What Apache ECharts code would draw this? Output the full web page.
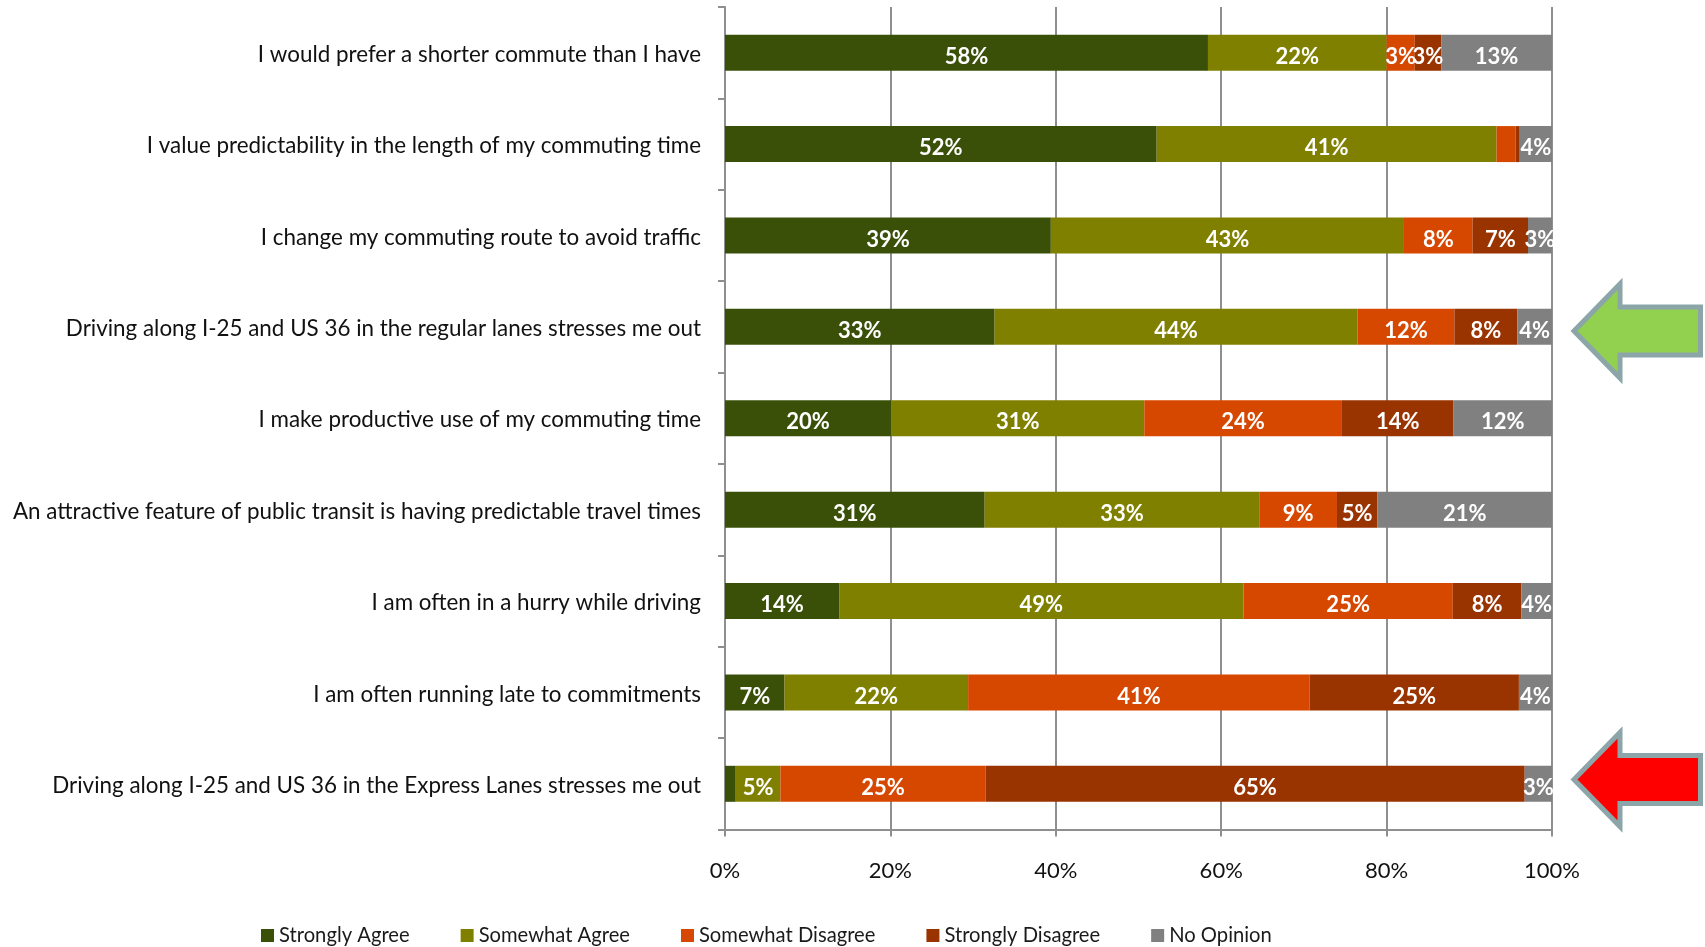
<!DOCTYPE html>
<html>
<head>
<meta charset="utf-8">
<style>html,body{margin:0;padding:0;background:#fff}#chart{width:1705px;height:947px}</style>
<script src="https://cdn.jsdelivr.net/npm/echarts@6/dist/echarts.min.js"></script>
</head>
<body>
<div id="chart"></div>
<script>
// Survey statements, top to bottom
const statements = [
  'I would prefer a shorter commute than I have',
  'I value predictability in the length of my commuting time',
  'I change my commuting route to avoid traffic',
  'Driving along I-25 and US 36 in the regular lanes stresses me out',
  'I make productive use of my commuting time',
  'An attractive feature of public transit is having predictable travel times',
  'I am often in a hurry while driving',
  'I am often running late to commitments',
  'Driving along I-25 and US 36 in the Express Lanes stresses me out'
];

// Share of responses per statement, in percent
const stronglyAgree    = [58.4, 52.2, 39.4, 32.6, 20.1, 31.4, 13.8,  7.2,  1.3];
const somewhatAgree    = [21.6, 41.1, 42.7, 43.9, 30.6, 33.2, 48.9, 22.2,  5.4];
const somewhatDisagree = [ 3.4,  2.3,  8.3, 11.7, 23.9,  9.4, 25.3, 41.3, 24.8];
const stronglyDisagree = [ 3.2,  0.5,  6.7,  7.6, 13.5,  4.9,  8.3, 25.3, 65.2];
const noOpinion        = [13.4,  3.9,  2.9,  4.2, 11.9, 21.1,  3.7,  4.0,  3.3];

const responses = [
  { name: 'Strongly Agree',    values: stronglyAgree,    color: '#3A5008' },
  { name: 'Somewhat Agree',    values: somewhatAgree,    color: '#808000' },
  { name: 'Somewhat Disagree', values: somewhatDisagree, color: '#D64700' },
  { name: 'Strongly Disagree', values: stronglyDisagree, color: '#993300' },
  { name: 'No Opinion',        values: noOpinion,        color: '#808080' }
];

const FONT = 'Lato, "Open Sans", sans-serif';
const AXIS_GREY = '#8f8f8f';
const ARROW_EDGE = '#8CA5A8';

// Callout arrow pointing left at the bar on its row
function arrow(centerY, fill) {
  return {
    type: 'polygon',
    z: 10,
    shape: {
      points: [
        [1574, centerY],
        [1620, centerY - 47],
        [1620, centerY - 24],
        [1700.5, centerY - 24],
        [1700.5, centerY + 24],
        [1620, centerY + 24],
        [1620, centerY + 47]
      ]
    },
    style: { fill: fill, stroke: ARROW_EDGE, lineWidth: 5, lineJoin: 'miter' }
  };
}

const chart = echarts.init(document.getElementById('chart'), null, { renderer: 'canvas' });
chart.setOption({
  animation: false,
  backgroundColor: '#fff',
  textStyle: { fontFamily: FONT },
  grid: { left: 725, right: 153, top: 7, bottom: 117.5, containLabel: false, outerBoundsMode: 'none' },
  legend: {
    left: 261,
    top: 925.5,
    padding: 0,
    icon: 'rect',
    itemWidth: 13,
    itemHeight: 13,
    itemGap: 51,
    textStyle: { fontFamily: FONT, fontSize: 20.2, color: '#1a1a1a' },
    data: responses.map(r => r.name)
  },
  xAxis: {
    type: 'value',
    min: 0,
    max: 100,
    interval: 20,
    axisLine: { show: true, lineStyle: { color: AXIS_GREY, width: 2 } },
    axisTick: { show: true, length: 7, lineStyle: { color: AXIS_GREY, width: 2 } },
    splitLine: { show: true, lineStyle: { color: AXIS_GREY, width: 2 } },
    axisLabel: { formatter: '{value}%', fontFamily: FONT, fontSize: 22, color: '#111', margin: 30 }
  },
  yAxis: {
    type: 'category',
    inverse: true,
    data: statements,
    axisLine: { show: true, lineStyle: { color: AXIS_GREY, width: 2 } },
    axisTick: { show: true, length: 7, alignWithLabel: false, lineStyle: { color: AXIS_GREY, width: 2 } },
    axisLabel: { fontFamily: FONT, fontSize: 22.4, color: '#111', margin: 24, interval: 0, verticalAlign: 'top', lineHeight: 4, width: 720, overflow: 'none' }
  },
  series: responses.map(r => ({
    name: r.name,
    type: 'bar',
    stack: 'share',
    barWidth: 36,
    data: r.values,
    itemStyle: { color: r.color },
    label: {
      show: true,
      position: 'inside',
      fontFamily: FONT,
      fontSize: 22,
      fontWeight: 'bold',
      color: '#fff',
      // Slivers too narrow to hold a figure stay unlabelled
      formatter: p => (p.value < 2.5 ? '' : Math.round(p.value) + '%')
    },
    labelLayout: { hideOverlap: false, dy: 4 }
  })),
  graphic: [
    arrow(331, '#92D050'),
    arrow(779.5, '#FF0000')
  ]
});
</script>
</body>
</html>
